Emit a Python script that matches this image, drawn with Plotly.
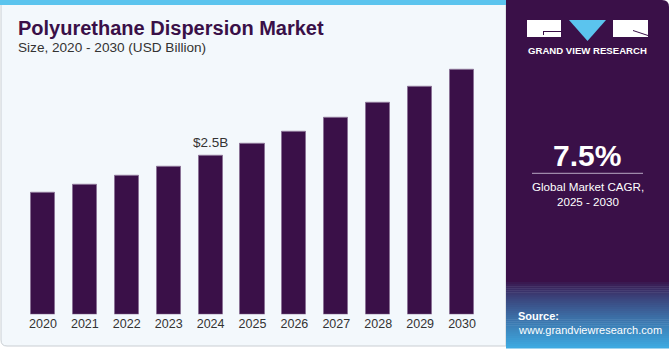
import plotly.graph_objects as go

years = ["2020", "2021", "2022", "2023", "2024", "2025", "2026", "2027", "2028", "2029", "2030"]
values = [1.92, 2.04, 2.18, 2.33, 2.50, 2.68, 2.87, 3.09, 3.33, 3.58, 3.86]
label_year = "2024"
label_text = "$2.5B"

title = "Polyurethane Dispersion Market"
subtitle = "Size, 2020 - 2030 (USD Billion)"
cagr = "7.5%"
cagr_lines = ["Global Market CAGR,", "2025 - 2030"]

W, H = 671, 350
def px(x):
    return x / W
def py(y):
    return 1 - y / H

PURPLE = "#3A1048"
fig = go.Figure()
fig.add_trace(go.Bar(
    x=years, y=values, width=0.575,
    marker=dict(color=PURPLE, line=dict(color="#8a7296", width=1)),
    hoverinfo="skip",
))

shapes = []
# left panel
shapes.append(dict(type="path", xref="paper", yref="paper",
                   path=f"M {px(1)},{py(3)} L {px(506)},{py(3)} L {px(506)},{py(346)} L {px(7)},{py(346)} Q {px(1)},{py(346)} {px(1)},{py(340)} Z",
                   fillcolor="#F3F8FC", line=dict(color="#C9CED3", width=1), layer="below"))
# cyan strip
shapes.append(dict(type="rect", xref="paper", yref="paper", x0=px(0), x1=px(506), y0=py(5), y1=py(0),
                   fillcolor="#5BC4EE", line=dict(width=0), layer="below"))
# right panel purple with rounded top-right
shapes.append(dict(type="path", xref="paper", yref="paper",
                   path=f"M {px(506)},{py(0)} L {px(662)},{py(0)} Q {px(669)},{py(0)} {px(669)},{py(7)} L {px(669)},{py(282)} L {px(506)},{py(282)} Z",
                   fillcolor=PURPLE, line=dict(width=0), layer="below"))
# gradient source area
c0 = (0x3A, 0x10, 0x48)
c1 = (0x3E, 0xA9, 0xE0)
steps = 33
y_start, y_end = 280, 348
for i in range(steps):
    t = i / (steps - 1)
    t2 = t ** 0.8
    col = tuple(int(c0[k] + (c1[k] - c0[k]) * t2) for k in range(3))
    ya = y_start + (y_end - y_start) * i / steps
    yb = y_start + (y_end - y_start) * (i + 1) / steps
    shapes.append(dict(type="rect", xref="paper", yref="paper", x0=px(506), x1=px(669),
                       y0=py(yb + 0.5), y1=py(ya), fillcolor="rgb(%d,%d,%d)" % col,
                       line=dict(width=0), layer="below"))
# logo
shapes.append(dict(type="rect", xref="paper", yref="paper", x0=px(527), x1=px(561), y0=py(37), y1=py(20),
                   fillcolor="white", line=dict(width=0)))
shapes.append(dict(type="line", xref="paper", yref="paper", x0=px(543), x1=px(561), y0=py(31.5), y1=py(31.5),
                   line=dict(color=PURPLE, width=1)))
shapes.append(dict(type="line", xref="paper", yref="paper", x0=px(543.5), x1=px(543.5), y0=py(31.5), y1=py(35),
                   line=dict(color=PURPLE, width=1)))
shapes.append(dict(type="path", xref="paper", yref="paper",
                   path=f"M {px(569)},{py(20)} L {px(606)},{py(20)} L {px(587.5)},{py(41)} Z",
                   fillcolor="#5BC4EE", line=dict(width=0)))
shapes.append(dict(type="rect", xref="paper", yref="paper", x0=px(613), x1=px(648), y0=py(37), y1=py(20),
                   fillcolor="white", line=dict(width=0)))
shapes.append(dict(type="line", xref="paper", yref="paper", x0=px(633), x1=px(648), y0=py(30.5), y1=py(35.5),
                   line=dict(color=PURPLE, width=1)))
# cagr separator
shapes.append(dict(type="line", xref="paper", yref="paper", x0=px(532), x1=px(643), y0=py(173.3), y1=py(173.3),
                   line=dict(color="#B8A8C4", width=1)))

ann = []
def txt(text, x, y, size, color, bold=False, xanchor="left", family="Liberation Sans, Arial, sans-serif"):
    ann.append(dict(text=("<b>%s</b>" % text) if bold else text, xref="paper", yref="paper",
                    x=px(x), y=py(y), xanchor=xanchor, yanchor="middle", showarrow=False,
                    font=dict(size=size, color=color, family=family)))

txt(title, 16, 28, 20, PURPLE, bold=True)
txt(subtitle, 16, 47, 13.6, "#333333")
txt("GRAND VIEW RESEARCH", 587.5, 51, 9.6, "white", bold=True, xanchor="center")
txt(cagr, 587, 155, 30, "white", bold=True, xanchor="center")
txt(cagr_lines[0], 588, 186, 11.6, "white", xanchor="center")
txt(cagr_lines[1], 588, 201, 11.6, "white", xanchor="center")
txt("Source:", 516, 316, 11, "white", bold=True)
txt("www.grandviewresearch.com", 516, 330, 11, "white")

ann.append(dict(text=label_text, x=years.index(label_year), y=values[years.index(label_year)], xref="x", yref="y",
                xanchor="center", yanchor="bottom", yshift=4, showarrow=False,
                font=dict(size=13.5, color="#333333", family="Liberation Sans, Arial, sans-serif")))

fig.update_layout(
    width=W, height=H, margin=dict(l=0, r=0, t=0, b=0, autoexpand=False),
    paper_bgcolor="white", plot_bgcolor="rgba(0,0,0,0)",
    showlegend=False, shapes=shapes, annotations=ann, bargap=0,
    xaxis=dict(type="category", domain=[px(22), px(483)], range=[-0.5, 10.5], automargin=False,
               showgrid=False, zeroline=False, showline=False,
               tickfont=dict(size=12.5, color="#333333", family="Liberation Sans, Arial, sans-serif"),
               ticks="", fixedrange=True),
    yaxis=dict(domain=[py(314.3), py(47.8)], range=[0, 4.2], visible=False, fixedrange=True,
               automargin=False),
)
fig.write_html("out.html")
